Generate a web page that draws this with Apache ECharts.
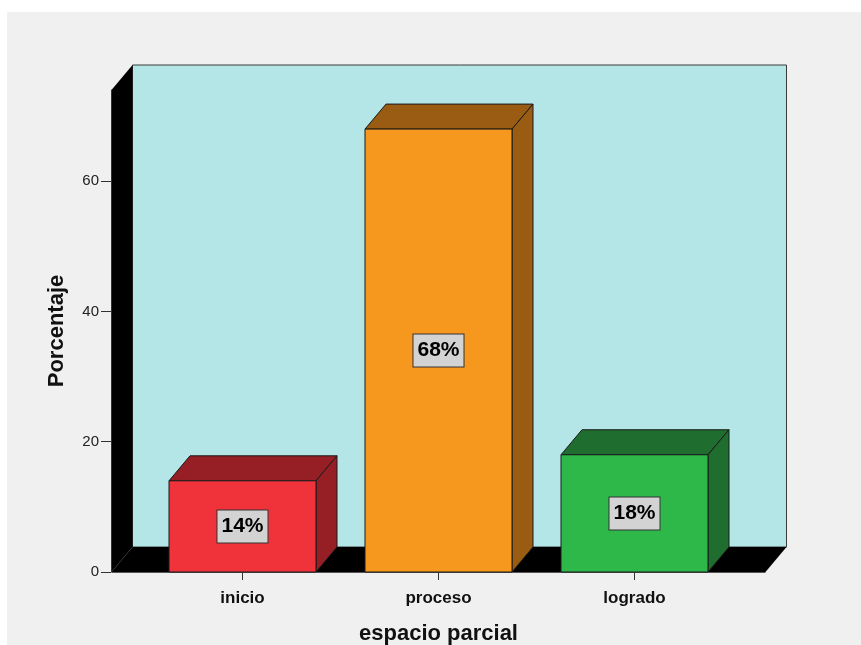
<!DOCTYPE html>
<html>
<head>
<meta charset="utf-8">
<script src="https://cdn.jsdelivr.net/npm/echarts@6/dist/echarts.min.js"></script>
<style>
  html, body { margin: 0; padding: 0; background: #ffffff; }
  #chart { position: absolute; left: 7px; top: 12px; width: 854px; height: 633px; background: #f0f0f0; }
</style>
</head>
<body>
<div id="chart"></div>
<script>
// Chart values
const categories = ['inicio', 'proceso', 'logrado'];
const percentages = [14, 68, 18];
const valueTicks = [0, 20, 40, 60];

// Bar colours: front face and darker top/side faces
const frontColors = ['#f0333b', '#f7981e', '#2eb84a'];
const shadeColors = ['#951f24', '#9a5b13', '#1f6e2f'];

// 3D look
const DEPTH_X = 21;
const DEPTH_Y = -25;
const SIDE_MARGIN = 33;   // floor/walls extend past the category band
const FONT = 'Liberation Sans, Arial, sans-serif';

const chart = echarts.init(document.getElementById('chart'), null, { renderer: 'canvas' });

function renderRoom(params, api) {
  const cs = params.coordSys;
  const left = cs.x - SIDE_MARGIN;
  const right = cs.x + cs.width + SIDE_MARGIN;
  const base = api.coord([0, 0])[1];
  const top = cs.y;
  return {
    type: 'group',
    children: [
      { // back wall
        type: 'rect',
        shape: { x: left + DEPTH_X, y: top + DEPTH_Y, width: right - left, height: base - top },
        style: { fill: '#b4e6e7', stroke: '#3a3a3a', lineWidth: 1 }
      },
      { // left wall
        type: 'polygon',
        shape: { points: [[left, base], [left, top], [left + DEPTH_X, top + DEPTH_Y], [left + DEPTH_X, base + DEPTH_Y]] },
        style: { fill: '#000000' }
      },
      { // floor
        type: 'polygon',
        shape: { points: [[left, base], [right, base], [right + DEPTH_X, base + DEPTH_Y], [left + DEPTH_X, base + DEPTH_Y]] },
        style: { fill: '#000000' }
      },
      { // front edge of the floor
        type: 'line',
        shape: { x1: left, y1: base + 0.5, x2: right, y2: base + 0.5 },
        style: { stroke: '#555555', lineWidth: 1 }
      }
    ]
  };
}

function renderBar(params, api) {
  const idx = api.value(0);
  const val = api.value(1);
  const topPt = api.coord([idx, val]);
  const basePt = api.coord([idx, 0]);
  const w = api.size([1, 0])[0] * 0.75;
  const x0 = topPt[0] - w / 2;
  const x1 = topPt[0] + w / 2;
  const y0 = topPt[1];
  const y1 = basePt[1];
  const edge = { stroke: '#1a1a1a', lineWidth: 1 };
  return {
    type: 'group',
    children: [
      {
        type: 'polygon',
        shape: { points: [[x0, y0], [x0 + DEPTH_X, y0 + DEPTH_Y], [x1 + DEPTH_X, y0 + DEPTH_Y], [x1, y0]] },
        style: Object.assign({ fill: shadeColors[idx] }, edge)
      },
      {
        type: 'polygon',
        shape: { points: [[x1, y0], [x1 + DEPTH_X, y0 + DEPTH_Y], [x1 + DEPTH_X, y1 + DEPTH_Y], [x1, y1]] },
        style: Object.assign({ fill: shadeColors[idx] }, edge)
      },
      {
        type: 'rect',
        shape: { x: x0, y: y0, width: w, height: y1 - y0 },
        style: Object.assign({ fill: frontColors[idx] }, edge)
      },
      {
        type: 'text',
        x: topPt[0],
        y: (y0 + y1) / 2,
        style: {
          text: val + '%',
          align: 'center',
          verticalAlign: 'middle',
          font: 'bold 21px ' + FONT,
          fill: '#000000',
          backgroundColor: '#d3d3d3',
          borderColor: '#333333',
          borderWidth: 1,
          padding: [6, 4, 5, 4]
        }
      }
    ]
  };
}

chart.setOption({
  animation: false,
  grid: { left: 137.5, right: 128.5, top: 78, bottom: 73, outerBoundsMode: 'none' },
  xAxis: {
    type: 'category',
    data: categories,
    name: 'espacio parcial',
    nameLocation: 'middle',
    nameGap: 51,
    nameTextStyle: { fontFamily: FONT, fontWeight: 'bold', fontSize: 22, color: '#111111' },
    axisLine: { show: false },
    axisTick: { show: true, alignWithLabel: true, length: 8, lineStyle: { color: '#333333' } },
    axisLabel: { margin: 18, fontFamily: FONT, fontWeight: 'bold', fontSize: 17, color: '#111111' },
    splitLine: { show: false }
  },
  yAxis: {
    type: 'value',
    min: 0,
    max: 74,
    interval: 20,
    offset: 33.5,
    name: 'Porcentaje',
    nameLocation: 'middle',
    nameRotate: 90,
    nameGap: 43,
    nameTextStyle: { fontFamily: FONT, fontWeight: 'bold', fontSize: 22, color: '#111111' },
    axisLine: { show: true, lineStyle: { color: '#666666' } },
    axisTick: { show: true, length: 10, customValues: valueTicks, lineStyle: { color: '#333333' } },
    axisLabel: { margin: 12, customValues: valueTicks, fontFamily: FONT, fontSize: 15, color: '#222222' },
    splitLine: { show: false }
  },
  series: [
    {
      type: 'custom',
      renderItem: renderRoom,
      data: [[0, 0]],
      silent: true,
      z: 1
    },
    {
      type: 'custom',
      renderItem: renderBar,
      data: percentages.map((v, i) => [i, v]),
      z: 2
    }
  ]
});
</script>
</body>
</html>
